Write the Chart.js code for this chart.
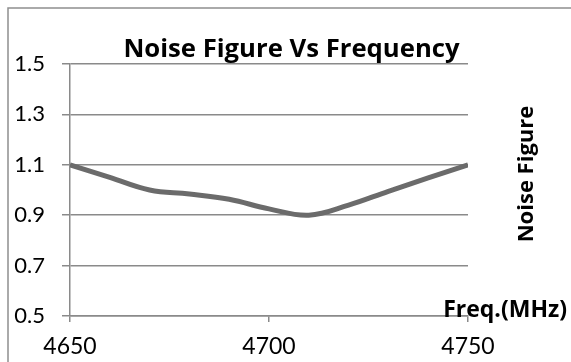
<!DOCTYPE html>
<html>
<head>
<meta charset="utf-8">
<script src="https://cdn.jsdelivr.net/npm/chart.js@4"></script>
<style>
  html, body { margin: 0; padding: 0; background: #ffffff; }
  #wrap { width: 571px; height: 362px; }
</style>
</head>
<body>
<div id="wrap"><canvas id="nfChart"></canvas></div>
<script>
// data
const freqs = [4650, 4660, 4670, 4680, 4690, 4700, 4710, 4720, 4730, 4740, 4750];
const noiseFigure = [1.10, 1.05, 1.00, 0.984, 0.963, 0.925, 0.90, 0.94, 0.995, 1.048, 1.10];
const yTicks = [0.5, 0.7, 0.9, 1.1, 1.3, 1.5];
const xTicks = [4650, 4700, 4750];

const chartTitle = "Noise Figure Vs Frequency";
const yTitle = "Noise Figure";
const xTitle = "Freq.(MHz)";

const gridColor = "#8a8a8a";
const tickFont = "Lato, 'Open Sans', sans-serif";
const titleFont = "'Open Sans', Lato, sans-serif";

const textPlugin = {
    id: "textPlugin",
    beforeDraw(chart) {
        const ctx = chart.ctx;
        ctx.save();
        // outer frame (top and left edge only visible)
        ctx.strokeStyle = "#8f8f8f";
        ctx.lineWidth = 1.5;
        ctx.beginPath();
        ctx.moveTo(8, chart.height);
        ctx.lineTo(8, 8);
        ctx.lineTo(chart.width, 8);
        ctx.stroke();
        ctx.restore();
    },
    afterDraw(chart) {
        const ctx = chart.ctx;
        const area = chart.chartArea;
        ctx.save();
        ctx.fillStyle = "#000000";

        // title
        ctx.font = "bold 25.7px " + titleFont;
        ctx.textAlign = "center";
        ctx.textBaseline = "alphabetic";
        ctx.fillText(chartTitle, (8 + chart.width) / 2 + 2, 57);

        // x axis title
        ctx.font = "bold 23px " + titleFont;
        ctx.textAlign = "right";
        ctx.fillText(xTitle, chart.width - 4, area.bottom + 1);

        // rotated y title on the right
        ctx.translate(533, (area.top + area.bottom) / 2 - 16);
        ctx.rotate(-Math.PI / 2);
        ctx.font = "bold 22px " + titleFont;
        ctx.textAlign = "center";
        ctx.fillText(yTitle, 0, 0);
        ctx.restore();
    }
};

const ctx = document.getElementById("nfChart").getContext("2d");

new Chart(ctx, {
    type: "line",
    data: {
        datasets: [{
            label: yTitle,
            data: freqs.map((f, i) => ({ x: f, y: noiseFigure[i] })),
            borderColor: "#6b6b6b",
            borderWidth: 5,
            pointRadius: 0,
            tension: 0.4,
            fill: false
        }]
    },
    options: {
        responsive: true,
        maintainAspectRatio: false,
        animation: false,
        layout: {
            padding: { left: 8, top: 64, right: 103, bottom: 0 }
        },
        plugins: {
            legend: { display: false },
            title: { display: false },
            tooltip: { enabled: false }
        },
        scales: {
            x: {
                type: "linear",
                min: 4650,
                max: 4750,
                afterBuildTicks: axis => {
                    axis.ticks = xTicks.map(v => ({ value: v }));
                },
                afterFit: axis => { axis.height = 46; },
                ticks: {
                    color: "#000000",
                    font: { family: tickFont, size: 23 },
                    padding: 11,
                    maxRotation: 0,
                    callback: v => String(v)
                },
                grid: {
                    drawOnChartArea: false,
                    drawTicks: true,
                    tickLength: 6,
                    color: gridColor,
                    lineWidth: 1.5
                },
                border: { display: true, color: gridColor, width: 1.5 }
            },
            y: {
                min: 0.5,
                max: 1.5,
                afterBuildTicks: axis => {
                    axis.ticks = yTicks.map(v => ({ value: v }));
                },
                afterFit: axis => { axis.width = 62; },
                ticks: {
                    color: "#000000",
                    font: { family: tickFont, size: 22 },
                    padding: 17,
                    callback: v => Number(v).toFixed(1)
                },
                grid: {
                    drawOnChartArea: true,
                    drawTicks: true,
                    tickLength: 8,
                    color: gridColor,
                    lineWidth: 1.5
                },
                border: { display: true, color: gridColor, width: 1.5 }
            }
        }
    },
    plugins: [textPlugin]
});
</script>
</body>
</html>
